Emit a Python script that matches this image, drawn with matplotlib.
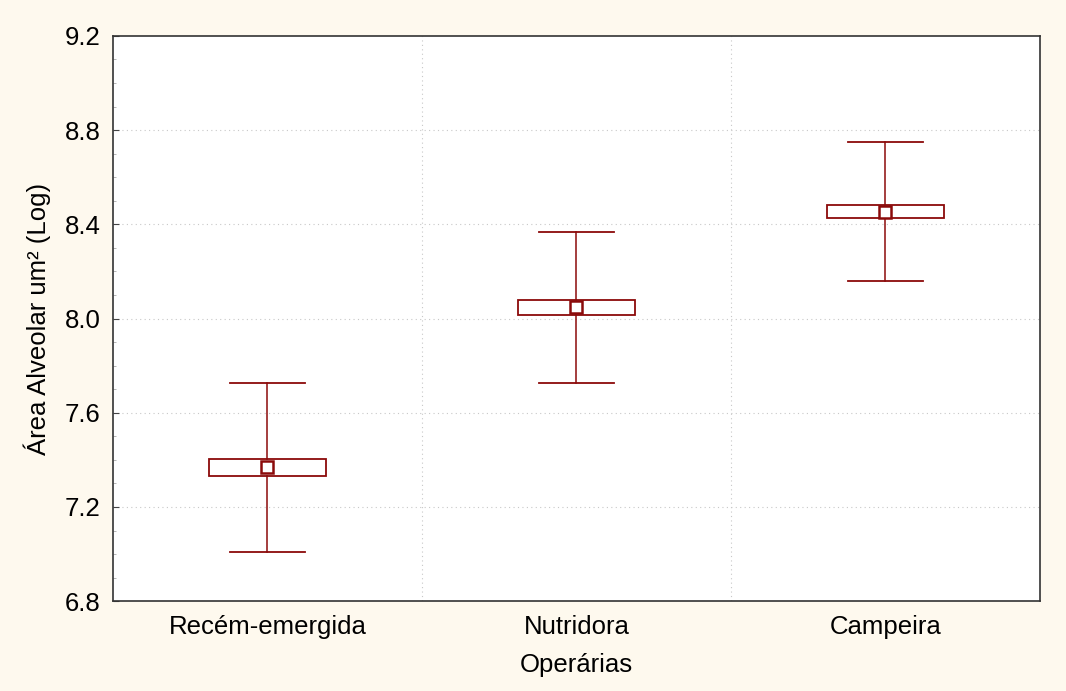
import numpy as np
import matplotlib.pyplot as plt
from matplotlib.ticker import MultipleLocator

plt.rcParams['font.family'] = ['Liberation Sans', 'DejaVu Sans']

# dados
grupos = ['Recém-emergida', 'Nutridora', 'Campeira']
media = [7.369, 8.049, 8.454]
caixa_inf = [7.331, 8.015, 8.425]
caixa_sup = [7.402, 8.077, 8.483]
bigode_inf = [7.007, 7.725, 8.158]
bigode_sup = [7.725, 8.366, 8.748]

cor = '#8b0a0a'
fundo = '#fef9ee'

fig = plt.figure(figsize=(10.66, 6.91), dpi=100, facecolor=fundo)
ax = fig.add_axes([0.106, 0.130, 0.8696, 0.818])
ax.set_facecolor('white')

x = np.arange(len(grupos))
larg_caixa = 0.38
larg_cap = 0.24

for i in x:
    # bigodes
    ax.plot([i, i], [bigode_inf[i], caixa_inf[i]], color=cor, lw=1.1, zorder=3)
    ax.plot([i, i], [caixa_sup[i], bigode_sup[i]], color=cor, lw=1.1, zorder=3)
    ax.plot([i - larg_cap / 2, i + larg_cap / 2], [bigode_inf[i]] * 2, color=cor, lw=1.3, zorder=3)
    ax.plot([i - larg_cap / 2, i + larg_cap / 2], [bigode_sup[i]] * 2, color=cor, lw=1.3, zorder=3)
    # caixa
    ax.add_patch(plt.Rectangle((i - larg_caixa / 2, caixa_inf[i]), larg_caixa,
                               caixa_sup[i] - caixa_inf[i], fill=False,
                               edgecolor=cor, lw=1.3, zorder=3))
# média
ax.plot(x, media, 's', ms=8, mfc='white', mec=cor, mew=1.8, zorder=4)

ax.set_xlim(-0.5, 2.5)
ax.set_ylim(6.8, 9.2)
ax.set_xticks(x)
ax.set_xticklabels(grupos)
ax.yaxis.set_minor_locator(MultipleLocator(0.1))
ax.set_yticks(np.arange(6.8, 9.21, 0.4))
ax.set_yticklabels(['%.1f' % v for v in np.arange(6.8, 9.21, 0.4)])

# grade pontilhada
for v in np.arange(7.2, 9.0, 0.4):
    ax.axhline(v, color='#c8c8c8', lw=0.8, ls=(0, (1, 3)), zorder=1)
for v in [0.5, 1.5]:
    ax.axvline(v, color='#c8c8c8', lw=0.8, ls=(0, (1, 3)), zorder=1)

ax.tick_params(axis='both', which='major', direction='in', length=4, labelsize=18.5,
               color='#444444', pad=9)
ax.tick_params(axis='y', which='minor', direction='in', length=2, color='#aaaaaa')
ax.tick_params(axis='x', which='major', length=0, pad=10)
for s in ax.spines.values():
    s.set_color('#333333')
    s.set_linewidth(1.2)

ax.set_xlabel('Operárias', fontsize=18.5, labelpad=10)
ax.set_ylabel('Área Alveolar um² (Log)', fontsize=18.5, labelpad=10)

fig.savefig('out.png', dpi=100, facecolor=fundo)
